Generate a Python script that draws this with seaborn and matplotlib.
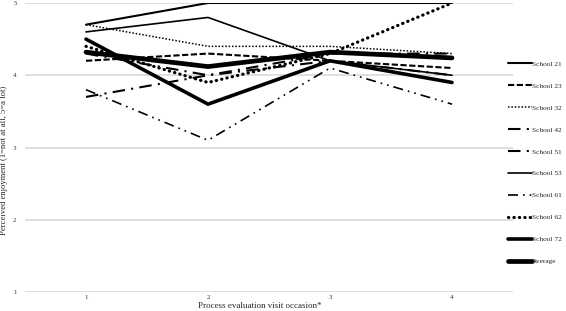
import matplotlib
matplotlib.use("Agg")
import matplotlib.pyplot as plt
import seaborn as sns

visits = [1, 2, 3, 4]
school_21 = [4.7, 5.0, 5.0, 5.0]
school_23 = [4.2, 4.3, 4.2, 4.1]
school_32 = [4.7, 4.4, 4.4, 4.3]
school_42 = [4.3, 4.0, 4.2, 4.0]
school_51 = [3.7, 4.0, 4.3, 4.3]
school_53 = [4.6, 4.8, 4.2, 4.0]
school_61 = [3.8, 3.1, 4.1, 3.6]
school_62 = [4.4, 3.9, 4.3, 5.0]
school_72 = [4.5, 3.6, 4.2, 3.9]
average = [4.32, 4.12, 4.32, 4.24]

series = [
    ("School 21", school_21, dict(lw=1.5, ls="-")),
    ("School 23", school_23, dict(lw=1.5, ls=(0, (3, 1.2)))),
    ("School 32", school_32, dict(lw=1.1, ls=(0, (1, 1.2)))),
    ("School 42", school_42, dict(lw=1.5, ls=(0, (6, 3, 1, 3)))),
    ("School 51", school_51, dict(lw=1.5, ls=(0, (6, 3, 1, 3)))),
    ("School 53", school_53, dict(lw=1.2, ls="-")),
    ("School 61", school_61, dict(lw=1.2, ls=(0, (6, 3, 1, 3, 1, 3)))),
    ("School 62", school_62, dict(lw=2.3, ls=(0, (0.1, 1.6)), dash_capstyle="round")),
    ("School 72", school_72, dict(lw=2.6, ls="-")),
    ("Average", average, dict(lw=3.4, ls="-")),
]

sns.set_style("white")
plt.rcParams["font.family"] = ["Liberation Serif", "DejaVu Serif"]

fig = plt.figure(figsize=(5.66, 3.11), dpi=100)
ax = fig.add_axes([25 / 566, 1 - 292 / 311, 488 / 566, 289 / 311])

for name, vals, style in series:
    sns.lineplot(x=visits, y=vals, ax=ax, color="black", label=name, **style)

ax.set_xlim(0.5, 4.5)
ax.set_ylim(1, 5)
ax.set_xticks(visits)
ax.set_yticks([1, 2, 3, 4, 5])
ax.grid(axis="y", color="#d9d9d9", lw=1.2)
ax.tick_params(axis="both", labelsize=5, length=0, colors="#333333")
ax.tick_params(axis="x", pad=2)
ax.tick_params(axis="y", pad=6)
for s in ax.spines.values():
    s.set_visible(False)

fig.text(260 / 566, 1 - 306 / 311, "Process evaluation visit occasion*",
         fontsize=6.5, ha="center", va="center")
fig.text(4 / 566, 1 - 160 / 311, "Perceived enjoyment (1=not at all, 5=a lot)",
         fontsize=6.2, ha="center", va="center", rotation=90)

ax.legend(loc="upper left", bbox_to_anchor=((508 - 25) / 488, 0.80), frameon=False,
          fontsize=5.3, handlelength=3.2, handletextpad=0.1, labelspacing=2.14,
          borderpad=0, borderaxespad=0)

plt.savefig("out.png", dpi=100)
plt.close()
